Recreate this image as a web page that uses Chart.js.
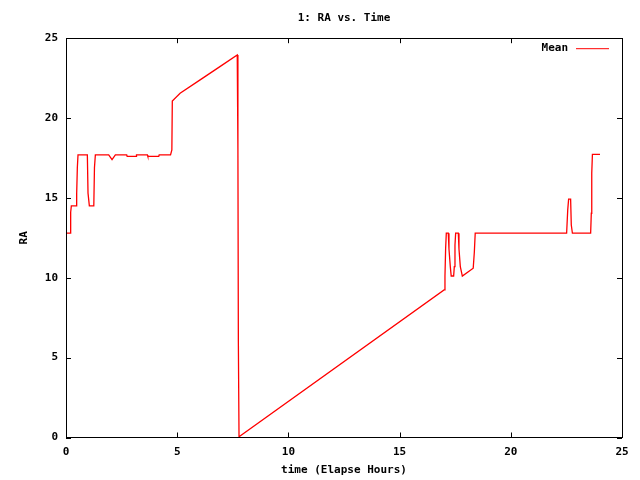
<!DOCTYPE html>
<html>
<head>
<meta charset="utf-8">
<script src="https://cdn.jsdelivr.net/npm/chart.js@4/dist/chart.umd.min.js"></script>
<style>
  html, body { margin: 0; padding: 0; background: #fff; }
  #wrap { width: 640px; height: 480px; }
</style>
</head>
<body>
<div id="wrap"><canvas id="raChart" width="640" height="480"></canvas></div>
<script>
/* ---- data ---- */
const TIME_HOURS = [
  0.00, 0.19, 0.21, 0.24, 0.46, 0.48, 0.51, 0.54, 0.96, 0.99, 1.05, 1.25, 1.28, 1.32,
  1.92, 2.07, 2.11, 2.22, 2.73, 2.75, 3.15, 3.17, 3.66, 3.68, 4.17, 4.19, 4.70, 4.76,
  4.78, 5.13, 6.03, 6.92, 7.70, 7.73, 7.75, 7.78,
  7.79, 17.00,
  17.04, 17.07, 17.10, 17.19, 17.22, 17.28, 17.32, 17.43, 17.46, 17.49, 17.52, 17.64,
  17.67, 17.73, 17.79, 17.82, 18.31, 18.36, 18.40,
  22.51, 22.56, 22.60, 22.69, 22.72, 22.77, 23.59, 23.62, 23.64, 23.67, 24.01
];
const RA_MEAN = [
  12.80, 12.80, 14.10, 14.50, 14.50, 15.27, 16.90, 17.69, 17.69, 15.30, 14.50, 14.50, 16.90, 17.69,
  17.69, 17.40, 17.40, 17.69, 17.69, 17.60, 17.60, 17.69, 17.69, 17.60, 17.60, 17.69, 17.69, 18.00,
  21.07, 21.55, 22.39, 23.22, 23.95, 18.10, 6.00, 0.05,
  0.05, 9.24,
  10.11, 11.85, 12.79, 12.79, 11.80, 10.70, 10.11, 10.11, 10.70, 12.05, 12.79, 12.79,
  11.80, 10.70, 10.30, 10.11, 10.60, 11.60, 12.79,
  12.79, 14.25, 14.92, 14.92, 13.30, 12.79, 12.79, 14.04, 16.54, 17.73, 17.73
];
const X_TICKS = [0, 5, 10, 15, 20, 25];
const Y_TICKS = [0, 5, 10, 15, 20, 25];
const SERIES_NAME = 'Mean';

const FONT = "'DejaVu Sans Mono', monospace";
const LINE_RED = 'rgb(255,0,0)';

/* gnuplot-style frame: full border, inward ticks on all four sides, key at top right */
const gnuplotFrame = {
  id: 'gnuplotFrame',
  afterDatasetsDraw(chart) {
    const { ctx, chartArea: a, scales } = chart;
    const tl = 5;
    ctx.save();
    ctx.strokeStyle = '#000';
    ctx.lineWidth = 1;
    ctx.strokeRect(Math.round(a.left) + 0.5, Math.round(a.top) + 0.5,
                   Math.round(a.right - a.left), Math.round(a.bottom - a.top));
    ctx.beginPath();
    X_TICKS.forEach(v => {
      const x = Math.round(scales.x.getPixelForValue(v)) + 0.5;
      ctx.moveTo(x, a.bottom); ctx.lineTo(x, a.bottom - tl);
      ctx.moveTo(x, a.top); ctx.lineTo(x, a.top + tl);
    });
    Y_TICKS.forEach(v => {
      const y = Math.round(scales.y.getPixelForValue(v)) + 0.5;
      ctx.moveTo(a.left, y); ctx.lineTo(a.left + tl, y);
      ctx.moveTo(a.right, y); ctx.lineTo(a.right - tl, y);
    });
    ctx.stroke();

    // key
    ctx.font = 'bold 11px ' + FONT;
    ctx.fillStyle = '#000';
    ctx.textAlign = 'right';
    ctx.textBaseline = 'middle';
    ctx.fillText(SERIES_NAME, a.right - 54, a.top + 10);
    ctx.strokeStyle = LINE_RED;
    ctx.beginPath();
    ctx.moveTo(a.right - 46, a.top + 10.5);
    ctx.lineTo(a.right - 13, a.top + 10.5);
    ctx.stroke();
    ctx.restore();
  }
};

new Chart(document.getElementById('raChart'), {
  type: 'scatter',
  data: {
    datasets: [{
      label: SERIES_NAME,
      data: TIME_HOURS.map((t, i) => ({ x: t, y: RA_MEAN[i] })),
      showLine: true,
      borderColor: LINE_RED,
      borderWidth: 1.3,
      pointRadius: 0,
      tension: 0,
    }]
  },
  options: {
    responsive: false,
    animation: false,
    layout: { padding: { left: 0, right: 18, top: 0, bottom: 0 } },
    plugins: {
      legend: { display: false },
      tooltip: { enabled: false },
      title: {
        display: true,
        fullSize: false,
        text: '1: RA vs. Time',
        color: '#000',
        font: { family: FONT, size: 11, weight: 'bold' },
        padding: { top: 12, bottom: 13 },
      }
    },
    scales: {
      x: {
        type: 'linear',
        min: 0, max: 25,
        afterBuildTicks: axis => { axis.ticks = X_TICKS.map(v => ({ value: v })); },
        afterFit: axis => { axis.height = 42.5; },
        grid: { display: false, drawTicks: false },
        border: { display: false },
        ticks: { color: '#000', padding: 8, maxRotation: 0, font: { family: FONT, size: 11, weight: 'bold' } },
        title: {
          display: true,
          text: 'time (Elapse Hours)',
          color: '#000',
          padding: { top: 0, bottom: 3.5 },
          font: { family: FONT, size: 11, weight: 'bold' },
        }
      },
      y: {
        type: 'linear',
        min: 0, max: 25,
        afterBuildTicks: axis => { axis.ticks = Y_TICKS.map(v => ({ value: v })); },
        afterFit: axis => { axis.width = 66; },
        grid: { display: false, drawTicks: false },
        border: { display: false },
        ticks: { color: '#000', padding: 8, font: { family: FONT, size: 11, weight: 'bold' } },
        title: {
          display: true,
          text: 'RA',
          color: '#000',
          padding: { top: 18, bottom: 0 },
          font: { family: FONT, size: 11, weight: 'bold' },
        }
      }
    }
  },
  plugins: [gnuplotFrame]
});
</script>
</body>
</html>
